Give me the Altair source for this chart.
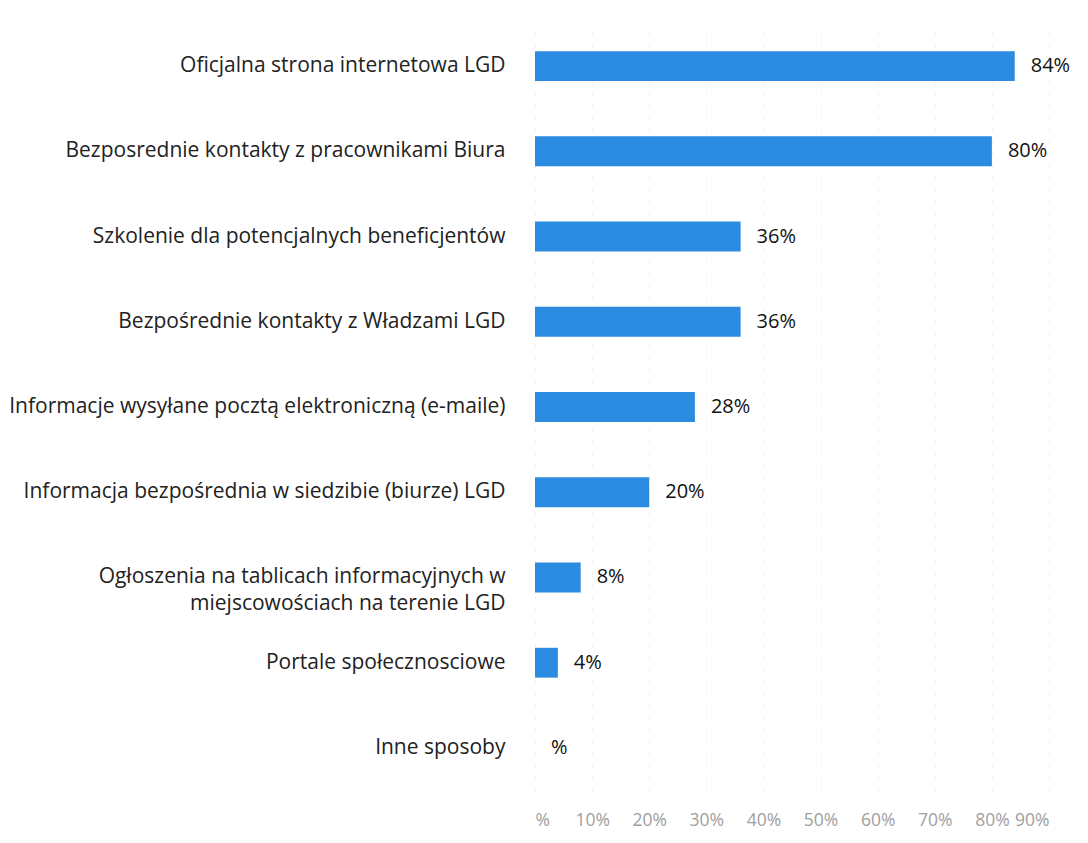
import altair as alt
import pandas as pd

categories = [
    "Oficjalna strona internetowa LGD",
    "Bezposrednie kontakty z pracownikami Biura",
    "Szkolenie dla potencjalnych beneficjentów",
    "Bezpośrednie kontakty z Władzami LGD",
    "Informacje wysyłane pocztą elektroniczną (e-maile)",
    "Informacja bezpośrednia w siedzibie (biurze) LGD",
    "Ogłoszenia na tablicach informacyjnych w|miejscowościach na terenie LGD",
    "Portale społecznosciowe",
    "Inne sposoby",
]
values = [84, 80, 36, 36, 28, 20, 8, 4, 0]
value_labels = ["84%", "80%", "36%", "36%", "28%", "20%", "8%", "4%", "%"]
tick_values = [0, 10, 20, 30, 40, 50, 60, 70, 80, 90]

df = pd.DataFrame({"cat": categories, "val": values, "lab": value_labels})

FONT = "Open Sans"

y_enc = alt.Y(
    "cat:N",
    sort=categories,
    title=None,
    axis=alt.Axis(
        labelExpr="split(datum.label, '|')",
        labelLimit=700,
        labelFontSize=21,
        labelFont=FONT,
        labelColor="#222222",
        labelPadding=30,
        labelLineHeight=27,
        domain=False,
        ticks=False,
        grid=False,
    ),
    scale=alt.Scale(paddingInner=0.65, paddingOuter=0.33),
)

x_enc = alt.X(
    "val:Q",
    title=None,
    scale=alt.Scale(domain=[0, 90], nice=False),
    axis=alt.Axis(
        values=tick_values,
        labelExpr="datum.value == 0 ? '%' : datum.value + '%'",
        labelFontSize=17.5,
        labelFont=FONT,
        labelColor="#a0a0a0",
        labelPadding=20,
        domain=False,
        ticks=False,
        grid=True,
        gridColor="#f0f0f0",
        gridDash=[3, 9],
        gridWidth=1,
    ),
)

bars = alt.Chart(df).mark_bar(color="#2b8be0").encode(y=y_enc, x=x_enc)

text = alt.Chart(df).mark_text(
    align="left", baseline="middle", dx=16, fontSize=20, font=FONT, color="#111111"
).encode(y=alt.Y("cat:N", sort=categories), x=alt.X("val:Q"), text="lab:N")

chart = (
    alt.layer(bars, text)
    .properties(
        width=514,
        height=768,
        padding={"left": 0, "top": 15, "right": 5, "bottom": 5},
        background="white",
    )
    .configure_view(stroke=None, strokeWidth=0)
)

chart.save("out.html", embed_options={"renderer": "svg", "actions": False})
